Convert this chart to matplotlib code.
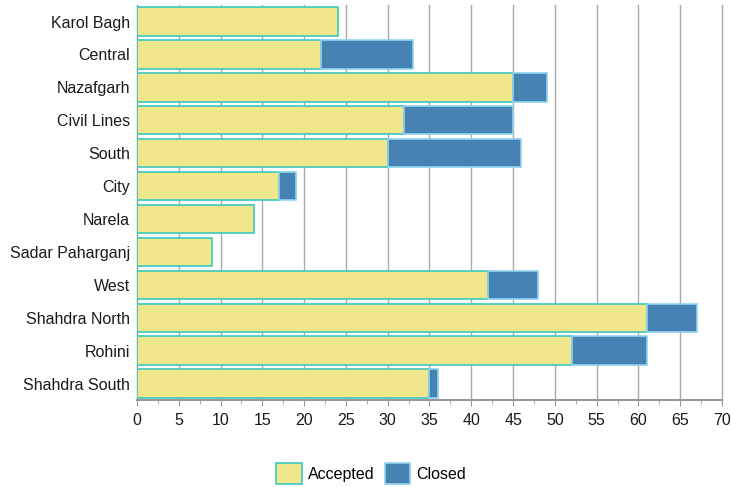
import matplotlib
matplotlib.use("Agg")
import matplotlib.pyplot as plt
from matplotlib.patches import Patch
from matplotlib.ticker import MultipleLocator

plt.rcParams['font.family'] = ['Liberation Sans', 'DejaVu Sans']

categories = ["Karol Bagh", "Central", "Nazafgarh", "Civil Lines", "South", "City",
              "Narela", "Sadar Paharganj", "West", "Shahdra North", "Rohini", "Shahdra South"]
accepted = [24, 22, 45, 32, 30, 17, 14, 9, 42, 61, 52, 35]
closed = [0, 11, 4, 13, 16, 2, 0, 0, 6, 6, 9, 1]

acc_color = "#F0E68C"
acc_edge = "#3CC8C0"
cls_color = "#4682B4"
cls_edge = "#8FD3EE"

fig = plt.figure(figsize=(7.31, 4.87), dpi=100)
ax = fig.add_axes([0.1874, 0.1786, 0.8003, 0.811])

y = list(range(len(categories)))
h = 0.86
ax.barh(y, accepted, height=h, color=acc_color, edgecolor=acc_edge, linewidth=1.2, zorder=3)
cls_y = [yi for yi, c in zip(y, closed) if c > 0]
cls_v = [c for c in closed if c > 0]
cls_l = [a for a, c in zip(accepted, closed) if c > 0]
ax.barh(cls_y, cls_v, left=cls_l, height=h, color=cls_color, edgecolor=cls_edge, linewidth=1.2, zorder=3)

ax.set_xlim(0, 70)
ax.set_ylim(len(categories) - 0.5, -0.5)
ax.set_yticks(y)
ax.set_yticklabels(categories, fontsize=11.5, color="#1a1a1a")
ax.xaxis.set_major_locator(MultipleLocator(5))
ax.xaxis.set_minor_locator(MultipleLocator(2.5))
ax.tick_params(axis='x', labelsize=11.5, colors="#1a1a1a", length=4, color="#999999", which='major', pad=5)
ax.tick_params(axis='x', which='minor', length=3, color="#999999")
ax.tick_params(axis='y', length=0, pad=5)
ax.grid(axis='x', color="#AAAAAA", linewidth=1, zorder=0)
for gl in ax.get_xgridlines():
    gl.set_clip_on(False)
ax.set_axisbelow(True)
for s in ['top', 'right']:
    ax.spines[s].set_visible(False)
ax.spines['left'].set_color("#999999")
ax.spines['bottom'].set_color("#999999")
ax.spines['bottom'].set_linewidth(1.5)

handles = [Patch(facecolor=acc_color, edgecolor=acc_edge, linewidth=1.2, label="Accepted"),
           Patch(facecolor=cls_color, edgecolor=cls_edge, linewidth=1.2, label="Closed")]
fig.legend(handles=handles, loc='center', bbox_to_anchor=(0.508, 0.028), ncol=2, frameon=False,
           fontsize=11.5, handlelength=1.6, handleheight=1.6, columnspacing=0.6, handletextpad=0.4)

fig.savefig("out.png", dpi=100)
